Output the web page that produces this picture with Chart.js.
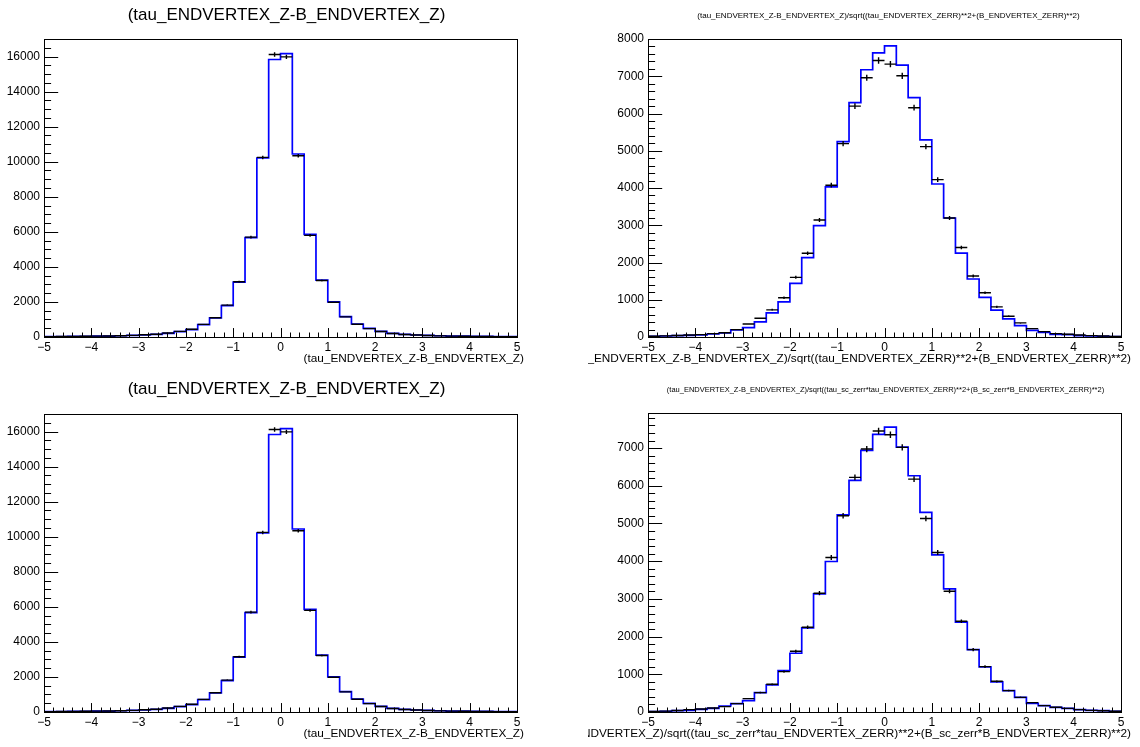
<!DOCTYPE html>
<html>
<head>
<meta charset="utf-8">
<script src="https://cdn.jsdelivr.net/npm/chart.js@4.4.0/dist/chart.umd.min.js"></script>
<style>
    body { margin: 0; background: #fff; width: 1140px; height: 747px; position: relative; overflow: hidden; }
    canvas { position: absolute; }
</style>
</head>
<body>
<canvas id="pad1" width="570" height="373" style="left:0;top:0"></canvas>
<canvas id="pad2" width="570" height="373" style="left:570px;top:0"></canvas>
<canvas id="pad3" width="570" height="373" style="left:0;top:374px"></canvas>
<canvas id="pad4" width="570" height="373" style="left:570px;top:374px"></canvas>
<script>
// --- Binning (40 bins from -5 to 5) ---
const X_MIN = -5;
const X_MAX = 5;
const N_BINS = 40;

// --- Titles ---
const DZ_TITLE = '(tau_ENDVERTEX_Z-B_ENDVERTEX_Z)';
const PULL_TITLE = '(tau_ENDVERTEX_Z-B_ENDVERTEX_Z)/sqrt((tau_ENDVERTEX_ZERR)**2+(B_ENDVERTEX_ZERR)**2)';
const PULL_SC_TITLE = '(tau_ENDVERTEX_Z-B_ENDVERTEX_Z)/sqrt((tau_sc_zerr*tau_ENDVERTEX_ZERR)**2+(B_sc_zerr*B_ENDVERTEX_ZERR)**2)';

// --- Axis tick labels ---
const xTicks = [-5, -4, -3, -2, -1, 0, 1, 2, 3, 4, 5];
const dzYTicks = [0, 2000, 4000, 6000, 8000, 10000, 12000, 14000, 16000];
const pullYTicks = [0, 1000, 2000, 3000, 4000, 5000, 6000, 7000, 8000];
const pullScYTicks = [0, 1000, 2000, 3000, 4000, 5000, 6000, 7000];

// --- Bin contents ---
// vertex z difference (blue histogram / black points), same in both left pads
const dzHist = [20, 25, 30, 35, 45, 55, 70, 90, 114, 152, 210, 305, 419, 705, 1086, 1790, 3126, 5674, 10210, 15830,
                16170, 10440, 5850, 3250, 2000, 1162, 743, 495, 324, 210, 152, 114, 95, 70, 55, 45, 35, 30, 25, 20];
const dzData = [22, 28, 32, 40, 50, 60, 75, 95, 125, 160, 225, 320, 440, 720, 1100, 1820, 3150, 5700, 10245, 16114,
                15980, 10343, 5800, 3220, 1980, 1150, 730, 480, 310, 200, 145, 110, 88, 66, 52, 42, 34, 28, 24, 19];

// pull with raw errors
const pullHist = [18, 27, 36, 45, 54, 81, 108, 189, 252, 405, 648, 945, 1440, 2133, 2988, 4028, 5245, 6290, 7174, 7630,
                  7817, 7298, 6424, 5290, 4108, 3195, 2250, 1557, 1062, 720, 486, 306, 180, 126, 72, 63, 36, 27, 18, 9];
const pullData = [20, 30, 40, 55, 65, 90, 115, 198, 351, 504, 729, 1053, 1602, 2250, 3141, 4074, 5191, 6199, 6960, 7424,
                  7325, 7013, 6156, 5111, 4226, 3195, 2403, 1638, 1188, 810, 558, 378, 225, 144, 90, 72, 54, 36, 27, 18];

// pull with scaled errors
const pullScHist = [9, 18, 35, 44, 71, 97, 159, 221, 301, 513, 717, 1097, 1558, 2230, 3133, 3991, 5230, 6142, 6938, 7363,
                    7558, 7027, 6266, 5292, 4168, 3266, 2381, 1655, 1195, 797, 566, 389, 230, 168, 124, 97, 62, 44, 35, 18];
const pullScData = [12, 22, 38, 62, 80, 106, 142, 221, 354, 513, 735, 1071, 1611, 2248, 3151, 4098, 5204, 6222, 6974, 7452,
                    7354, 7018, 6177, 5133, 4230, 3204, 2407, 1655, 1204, 814, 566, 389, 248, 168, 124, 97, 62, 44, 35, 18];

const FONT = '"Liberation Sans", Arial, Helvetica, sans-serif';
const BLUE = '#0000ff';
Chart.defaults.font.family = FONT;

const binW = (X_MAX - X_MIN) / N_BINS;
const binLow = i => X_MIN + i * binW;

// ROOT-like frame, inner tick marks, titles and error crosses
const rootPad = {
    id: 'rootPad',
    afterDatasetsDraw(chart, args, opts) {
        const ctx = chart.ctx;
        const xs = chart.scales.x, ys = chart.scales.y;
        const a = chart.chartArea;
        ctx.save();

        // data points: horizontal bar over the bin, vertical sqrt(N) error
        chart.data.datasets.forEach(ds => {
            if (!ds.errorBars) return;
            ctx.strokeStyle = '#000';
            ctx.lineWidth = 1.4;
            ctx.beginPath();
            ds.data.forEach(p => {
                const y = ys.getPixelForValue(p.y);
                const x = xs.getPixelForValue(p.x);
                const err = Math.sqrt(p.y);
                ctx.moveTo(xs.getPixelForValue(p.x - binW / 2), y);
                ctx.lineTo(xs.getPixelForValue(p.x + binW / 2), y);
                ctx.moveTo(x, ys.getPixelForValue(p.y - err));
                ctx.lineTo(x, ys.getPixelForValue(p.y + err));
            });
            ctx.stroke();
        });

        // frame
        ctx.strokeStyle = '#000';
        ctx.lineWidth = 1;
        ctx.strokeRect(Math.round(a.left) + 0.5, Math.round(a.top) + 0.5,
                       Math.round(a.right - a.left), Math.round(a.bottom - a.top));

        // tick marks inside the frame
        ctx.beginPath();
        const yMajorLen = 0.03 * (a.right - a.left);
        for (let i = 0; i * opts.yMinor <= ys.max; i++) {
            const v = i * opts.yMinor;
            const y = Math.round(ys.getPixelForValue(v)) + 0.5;
            const len = (i % opts.yMinorPerMajor === 0) ? yMajorLen : yMajorLen / 2;
            ctx.moveTo(a.left, y);
            ctx.lineTo(a.left + len, y);
        }
        const xMajorLen = 0.03 * (a.bottom - a.top);
        for (let i = 0; i <= 50; i++) {
            const v = X_MIN + i * 0.2;
            const x = Math.round(xs.getPixelForValue(v)) + 0.5;
            const len = (i % 5 === 0) ? xMajorLen : xMajorLen / 2;
            ctx.moveTo(x, a.bottom);
            ctx.lineTo(x, a.bottom - len);
        }
        ctx.stroke();

        // pad title
        ctx.fillStyle = '#000';
        ctx.textBaseline = 'middle';
        ctx.textAlign = 'center';
        ctx.font = opts.titleSize + 'px ' + FONT;
        ctx.fillText(opts.title, (a.left + a.right) / 2 + opts.titleDx, opts.titleY);

        // x axis title, right aligned; long ones run off the pad's left side
        ctx.beginPath();
        ctx.rect(opts.xTitleClip, 0, chart.width - opts.xTitleClip, chart.height);
        ctx.clip();
        ctx.textAlign = 'right';
        ctx.font = '11.8px ' + FONT;
        ctx.fillText(opts.xTitle, a.right + opts.xTitleDx, a.bottom + 22);
        ctx.restore();
    }
};

function drawPad(canvasId, cfg) {
    // blue outline: one point per low edge, plus the upper edge of the last bin
    const histPoints = cfg.hist.map((v, i) => ({ x: binLow(i), y: v }));
    histPoints.push({ x: X_MAX, y: cfg.hist[cfg.hist.length - 1] });
    const dataPoints = cfg.data.map((v, i) => ({ x: binLow(i) + binW / 2, y: v }));

    const tickFont = { size: 12, family: FONT };
    const fmt = v => (v < 0 ? '\u2212' + Math.abs(v) : String(v));

    return new Chart(document.getElementById(canvasId), {
        type: 'line',
        data: {
            datasets: [{
                label: 'hist',
                data: histPoints,
                stepped: 'before',
                borderColor: BLUE,
                borderWidth: 1.7,
                pointRadius: 0,
                fill: false
            }, {
                label: 'data',
                data: dataPoints,
                showLine: false,
                pointRadius: 0,
                errorBars: true
            }]
        },
        options: {
            responsive: false,
            animation: false,
            devicePixelRatio: 1,
            layout: { padding: { top: cfg.top, right: cfg.right, left: 0, bottom: 0 } },
            plugins: {
                legend: { display: false },
                tooltip: { enabled: false },
                rootPad: {
                    title: cfg.title,
                    titleSize: cfg.titleSize,
                    titleDx: cfg.titleDx,
                    titleY: cfg.titleY,
                    xTitle: cfg.xTitle,
                    xTitleDx: cfg.xTitleDx,
                    xTitleClip: cfg.xTitleClip,
                    yMinor: cfg.yMinor,
                    yMinorPerMajor: cfg.yStep / cfg.yMinor
                }
            },
            scales: {
                x: {
                    type: 'linear',
                    min: X_MIN,
                    max: X_MAX,
                    grid: { display: false, drawTicks: false },
                    border: { display: false },
                    ticks: { padding: 3, font: tickFont, color: '#000', maxRotation: 0, autoSkip: false, callback: fmt },
                    afterBuildTicks: s => { s.ticks = xTicks.map(v => ({ value: v })); },
                    afterFit: s => { s.height = cfg.xAxisH; }
                },
                y: {
                    type: 'linear',
                    min: 0,
                    max: cfg.yMax,
                    grid: { display: false, drawTicks: false },
                    border: { display: false },
                    ticks: { padding: 4, font: tickFont, color: '#000', autoSkip: false, callback: v => String(v) },
                    afterBuildTicks: s => { s.ticks = cfg.yTicks.map(v => ({ value: v })); },
                    afterFit: s => { s.width = cfg.yAxisW; }
                }
            }
        },
        plugins: [rootPad]
    });
}

drawPad('pad1', {
    hist: dzHist, data: dzData, title: DZ_TITLE, titleSize: 17, titleDx: 6, titleY: 15,
    xTitle: DZ_TITLE, xTitleDx: 7, xTitleClip: 0,
    yMax: 17000, yTicks: dzYTicks, yStep: 2000, yMinor: 500, top: 39, right: 53, yAxisW: 44, xAxisH: 36
});
drawPad('pad2', {
    hist: pullHist, data: pullData, title: PULL_TITLE, titleSize: 8, titleDx: 4, titleY: 16,
    xTitle: PULL_TITLE, xTitleDx: 10, xTitleClip: 18,
    yMax: 8000, yTicks: pullYTicks, yStep: 1000, yMinor: 200, top: 39, right: 19, yAxisW: 78, xAxisH: 36
});
drawPad('pad3', {
    hist: dzHist, data: dzData, title: DZ_TITLE, titleSize: 17, titleDx: 6, titleY: 15,
    xTitle: DZ_TITLE, xTitleDx: 7, xTitleClip: 0,
    yMax: 17000, yTicks: dzYTicks, yStep: 2000, yMinor: 500, top: 40, right: 53, yAxisW: 44, xAxisH: 35
});
drawPad('pad4', {
    hist: pullScHist, data: pullScData, title: PULL_SC_TITLE, titleSize: 7.5, titleDx: 1, titleY: 16,
    xTitle: PULL_SC_TITLE, xTitleDx: 10, xTitleClip: 18,
    yMax: 7930, yTicks: pullScYTicks, yStep: 1000, yMinor: 200, top: 39, right: 19, yAxisW: 78, xAxisH: 35
});
</script>
</body>
</html>
